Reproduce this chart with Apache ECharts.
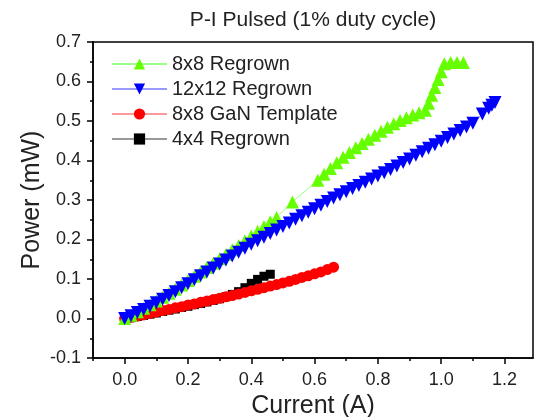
<!DOCTYPE html>
<html>
<head>
<meta charset="utf-8">
<script src="https://cdn.jsdelivr.net/npm/echarts@6/dist/echarts.min.js"></script>
<style>html,body{margin:0;padding:0;background:#fff}#c{width:538px;height:417px}</style>
</head>
<body>
<div id="c"></div>
<script>
const title = "P-I Pulsed (1% duty cycle)";
const xName = "Current (A)";
const yName = "Power (mW)";
const xMajorTicks = [0, 0.2, 0.4, 0.6, 0.8, 1.0, 1.2];
const xMinorTicks = [-0.1, 0.1, 0.3, 0.5, 0.7, 0.9, 1.1];

const names = ["8x8 Regrown", "12x12 Regrown", "8x8 GaN Template", "4x4 Regrown"];

const greenX = [0,0.02,0.04,0.06,0.08,0.10,0.12,0.14,0.16,0.18,0.20,0.22,0.24,0.26,0.28,0.30,0.32,0.34,0.36,0.38,0.40,0.42,0.44,0.46,0.48,0.53,0.61,0.63,0.65,0.67,0.69,0.71,0.73,0.75,0.77,0.79,0.81,0.83,0.85,0.87,0.89,0.91,0.93,0.95,0.96,0.97,0.98,0.99,1.00,1.01,1.03,1.05,1.07];
const greenY = [0,0.008,0.017,0.026,0.035,0.044,0.054,0.064,0.074,0.085,0.096,0.107,0.118,0.129,0.140,0.151,0.162,0.174,0.185,0.197,0.209,0.221,0.233,0.245,0.256,0.295,0.350,0.365,0.380,0.394,0.408,0.420,0.432,0.443,0.454,0.464,0.474,0.484,0.493,0.501,0.508,0.515,0.521,0.527,0.545,0.565,0.585,0.605,0.625,0.645,0.648,0.648,0.648];

const blueX = [0,0.02,0.04,0.06,0.08,0.10,0.12,0.14,0.16,0.18,0.20,0.22,0.24,0.26,0.28,0.30,0.32,0.34,0.36,0.38,0.40,0.42,0.44,0.46,0.48,0.50,0.52,0.54,0.56,0.58,0.60,0.62,0.64,0.66,0.68,0.70,0.72,0.74,0.76,0.78,0.80,0.82,0.84,0.86,0.88,0.90,0.92,0.94,0.96,0.98,1.00,1.02,1.04,1.06,1.08,1.10,1.13,1.15,1.16,1.17];
const blueY = [0,0.007,0.015,0.023,0.031,0.040,0.049,0.058,0.068,0.078,0.088,0.098,0.108,0.118,0.128,0.138,0.148,0.158,0.168,0.178,0.188,0.197,0.206,0.215,0.224,0.233,0.242,0.251,0.260,0.269,0.278,0.287,0.296,0.305,0.313,0.321,0.329,0.337,0.345,0.353,0.361,0.369,0.377,0.386,0.395,0.404,0.413,0.422,0.431,0.440,0.449,0.458,0.467,0.476,0.485,0.494,0.518,0.532,0.540,0.547];

const redX = [0,0.02,0.04,0.06,0.08,0.10,0.12,0.14,0.16,0.18,0.20,0.22,0.24,0.26,0.28,0.30,0.32,0.34,0.36,0.38,0.40,0.42,0.44,0.46,0.48,0.50,0.52,0.54,0.56,0.58,0.60,0.62,0.64,0.66];
const redY = [0,0.003,0.006,0.009,0.013,0.016,0.020,0.023,0.027,0.030,0.034,0.037,0.041,0.044,0.048,0.051,0.055,0.058,0.062,0.066,0.070,0.074,0.078,0.082,0.086,0.090,0.094,0.099,0.104,0.108,0.113,0.118,0.124,0.130];

const blackX = [0,0.02,0.04,0.06,0.08,0.10,0.12,0.14,0.16,0.18,0.20,0.22,0.24,0.26,0.28,0.30,0.32,0.34,0.36,0.38,0.40,0.42,0.44,0.46];
const blackY = [0,0.002,0.005,0.008,0.011,0.014,0.018,0.021,0.024,0.028,0.031,0.035,0.038,0.042,0.046,0.050,0.055,0.061,0.068,0.078,0.089,0.099,0.107,0.112];

const zip = (xs, ys) => xs.map((x, i) => [x, ys[i]]);
const FONT = "'Liberation Sans', Arial, sans-serif";

const chart = echarts.init(document.getElementById('c'), null, {renderer: 'canvas'});
const mkSeries = (name, xs, ys, symbol, size, color, lineColor, rotate) => ({
  name, type: 'line', data: zip(xs, ys), symbol, symbolSize: size, symbolRotate: rotate || 0,
  showAllSymbol: true, animation: false,
  itemStyle: {color: color, borderWidth: 0},
  lineStyle: {color: lineColor, width: 1},
  emphasis: {disabled: true}
});

chart.setOption({
  animation: false,
  backgroundColor: '#fff',
  title: {
    text: title, left: 308, top: 5, textAlign: 'center',
    textStyle: {fontFamily: FONT, fontSize: 21, fontWeight: 'normal', color: '#222'}
  },
  legend: {
    data: names, orient: 'vertical', left: 106, top: 49,
    itemWidth: 55, itemHeight: 14, itemGap: 5,
    symbolRotate: 'inherit',
    textStyle: {fontFamily: FONT, fontSize: 20, color: '#222'},
    selectedMode: false
  },
  grid: {left: 93, top: 42, right: 5, bottom: 59, show: true, borderColor: '#000', borderWidth: 1.5,
         containLabel: false, outerBoundsMode: 'none'},
  xAxis: [{
    type: 'value', min: -0.1, max: 1.29, position: 'bottom',
    name: xName, nameLocation: 'middle', nameGap: 36, nameMoveOverlap: false,
    nameTextStyle: {fontFamily: FONT, fontSize: 25, color: '#222'},
    axisLine: {onZero: false, lineStyle: {color: '#000', width: 1.5}},
    axisTick: {show: true, inside: false, length: 6, customValues: xMajorTicks, lineStyle: {color: '#000', width: 1.5}},
    axisLabel: {customValues: xMajorTicks, fontFamily: FONT, fontSize: 18, color: '#222', margin: 13, formatter: v => v.toFixed(1)},
    splitLine: {show: false}
  }, {
    type: 'value', min: -0.1, max: 1.29, position: 'bottom', offset: 0,
    axisLine: {show: false, onZero: false},
    axisTick: {show: true, inside: false, length: 3, customValues: xMinorTicks, lineStyle: {color: '#000', width: 1.5}},
    axisLabel: {show: false},
    splitLine: {show: false}
  }],
  yAxis: {
    type: 'value', min: -0.1, max: 0.7, interval: 0.1,
    name: yName, nameLocation: 'middle', nameGap: 48, nameRotate: 90, nameMoveOverlap: false,
    nameTextStyle: {fontFamily: FONT, fontSize: 25, color: '#222'},
    axisLine: {show: true, onZero: false, lineStyle: {color: '#000', width: 1.5}},
    axisTick: {show: true, inside: false, length: 6, lineStyle: {color: '#000', width: 1.5}},
    minorTick: {show: true, splitNumber: 2, length: 3, lineStyle: {color: '#000', width: 1.5}},
    axisLabel: {fontFamily: FONT, fontSize: 18, color: '#222', margin: 12, formatter: v => v.toFixed(1)},
    splitLine: {show: false}
  },
  series: [
    mkSeries(names[3], blackX, blackY, 'rect', 9, '#000000', '#999999'),
    mkSeries(names[2], redX, redY, 'circle', 11, '#ff0000', '#ff9999'),
    mkSeries(names[0], greenX, greenY, 'triangle', 13, '#66ff00', '#99ff88'),
    mkSeries(names[1], blueX, blueY, 'triangle', 13, '#0000ff', '#9999ff', 180)
  ]
});
</script>
</body>
</html>
